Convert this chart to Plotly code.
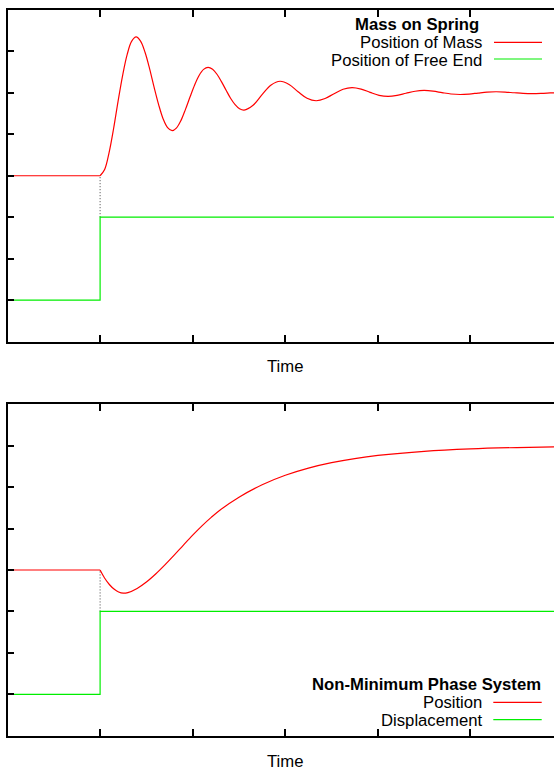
import plotly.graph_objects as go

W, H = 554, 770

# ---------------- data ----------------
tick_x = [0, 1, 2, 3, 4, 5]
tick_y = [-1, 0, 1, 2, 3, 4, 5, 6, 7]

# Top panel: mass on spring
mass_pre_x = [0.0, 1.0]
mass_pre_y = [3.0, 3.0]
mass_x = [1.000, 1.049, 1.097, 1.146, 1.194, 1.243, 1.292, 1.340, 1.389, 1.437,
          1.486, 1.535, 1.583, 1.632, 1.680, 1.729, 1.778, 1.826, 1.875, 1.923,
          1.972, 2.021, 2.069, 2.118, 2.166, 2.215, 2.264, 2.312, 2.361, 2.409,
          2.458, 2.506, 2.555, 2.652, 2.749, 2.847, 2.944, 3.041, 3.138, 3.235,
          3.333, 3.430, 3.527, 3.624, 3.721, 3.819, 3.916, 4.013, 4.110, 4.207,
          4.304, 4.402, 4.499, 4.596, 4.693, 4.790, 4.888, 4.985, 5.082, 5.179,
          5.276, 5.374, 5.471, 5.568, 5.665, 5.762, 5.860, 5.957]
mass_y = [3.000, 3.150, 3.558, 4.140, 4.795, 5.418, 5.922, 6.243, 6.350, 6.249,
          5.974, 5.581, 5.139, 4.718, 4.378, 4.161, 4.088, 4.156, 4.342, 4.608,
          4.906, 5.191, 5.420, 5.567, 5.616, 5.570, 5.444, 5.265, 5.063, 4.871,
          4.716, 4.617, 4.584, 4.700, 4.957, 5.192, 5.281, 5.203, 5.029, 4.871,
          4.810, 4.863, 4.981, 5.087, 5.128, 5.092, 5.013, 4.941, 4.914, 4.938,
          4.991, 5.040, 5.058, 5.042, 5.006, 4.973, 4.961, 4.972, 4.996, 5.018,
          5.027, 5.019, 5.003, 4.988, 4.982, 4.987, 4.998, 5.008]
free_end_x = [0.0, 1.0, 1.0, 5.95]
free_end_y = [0.0, 0.0, 2.0, 2.0]

# Bottom panel: non-minimum phase system
pos_pre_x = [0.0, 1.0]
pos_pre_y = [3.0, 3.0]
pos_x = [1.00, 1.05, 1.10, 1.15, 1.20, 1.25, 1.30, 1.40, 1.50, 1.60, 1.70, 1.80,
         1.90, 2.00, 2.10, 2.20, 2.30, 2.50, 2.75, 3.00, 3.25, 3.50, 3.75, 4.00,
         4.50, 5.00, 5.50, 5.95]
pos_y = [3.000, 2.800, 2.650, 2.540, 2.470, 2.440, 2.455, 2.555, 2.710, 2.905,
         3.125, 3.360, 3.602, 3.840, 4.065, 4.270, 4.455, 4.757, 5.058, 5.287,
         5.460, 5.591, 5.690, 5.765, 5.865, 5.923, 5.956, 5.973]
disp_x = [0.0, 1.0, 1.0, 5.95]
disp_y = [0.0, 0.0, 2.0, 2.0]

marker_x = [1.0, 1.0]
marker_y = [2.0, 3.0]

RED = "#ff0000"
GREEN = "#00ee00"
FONT = "Liberation Sans, Arial, sans-serif"
FS = 16.7

fig = go.Figure()

def add(x, y, color, xa, ya, shape="linear", dash="solid", width=1.2):
    fig.add_trace(go.Scatter(x=x, y=y, mode="lines", xaxis=xa, yaxis=ya,
                             line=dict(color=color, width=width, shape=shape, dash=dash),
                             showlegend=False, hoverinfo="skip"))

# top
add(marker_x, marker_y, "#404040", "x", "y", dash="1px,2px", width=1)
add(free_end_x, free_end_y, GREEN, "x", "y")
add(mass_pre_x, mass_pre_y, RED, "x", "y")
add(mass_x, mass_y, RED, "x", "y", shape="spline")
# bottom
add(marker_x, marker_y, "#404040", "x2", "y2", dash="1px,2px", width=1)
add(disp_x, disp_y, GREEN, "x2", "y2")
add(pos_pre_x, pos_pre_y, RED, "x2", "y2")
add(pos_x, pos_y, RED, "x2", "y2", shape="spline")

def px(x):
    return x / W

def py(y):
    return 1 - y / H

xdom = [7.5 / W, 1.0]
top_dom = [py(341.5), py(10.0)]
bot_dom = [py(735.7), py(404.3)]

axis_common = dict(showgrid=False, zeroline=False, showticklabels=False,
                   ticks="inside", ticklen=7, tickwidth=1.5, tickcolor="black",
                   showline=True, linewidth=1.5, linecolor="black")

fig.update_layout(
    width=W, height=H, autosize=False,
    margin=dict(l=0, r=0, t=0, b=0),
    paper_bgcolor="white", plot_bgcolor="white",
    xaxis=dict(domain=xdom, range=[0, 5.902], tickvals=tick_x, mirror="ticks",
               anchor="y", **axis_common),
    yaxis=dict(domain=top_dom, range=[-1, 7], tickvals=tick_y, anchor="x", **axis_common),
    xaxis2=dict(domain=xdom, range=[0, 5.902], tickvals=tick_x, mirror="ticks",
                anchor="y2", **axis_common),
    yaxis2=dict(domain=bot_dom, range=[-1, 7], tickvals=tick_y, anchor="x2", **axis_common),
)

annotations = []
def text(x, y, s, anchor="right"):
    annotations.append(dict(x=px(x), y=py(y), xref="paper", yref="paper", text=s,
                            showarrow=False, xanchor=anchor, yanchor="middle",
                            font=dict(family=FONT, size=FS, color="black")))

text(416.5, 24.8, "<b>Mass on Spring</b>", "center")
text(484, 42.4, "Position of Mass")
text(484, 60.0, "Position of Free End")
text(284.7, 366.7, "Time", "center")

text(426.7, 684.6, "<b>Non-Minimum Phase System</b>", "center")
text(484, 702.9, "Position")
text(484, 720.4, "Displacement")
text(284.7, 761, "Time", "center")

shapes = []
def seg(x0, x1, y, color):
    shapes.append(dict(type="line", xref="paper", yref="paper",
                       x0=px(x0), x1=px(x1), y0=py(y), y1=py(y),
                       line=dict(color=color, width=1.2)))

seg(494, 542, 42.3, RED)
seg(494, 542, 59.0, GREEN)
seg(493.3, 541.7, 702.3, RED)
seg(493.3, 541.7, 719.7, GREEN)

fig.update_layout(annotations=annotations, shapes=shapes)

fig.write_html("out.html")
